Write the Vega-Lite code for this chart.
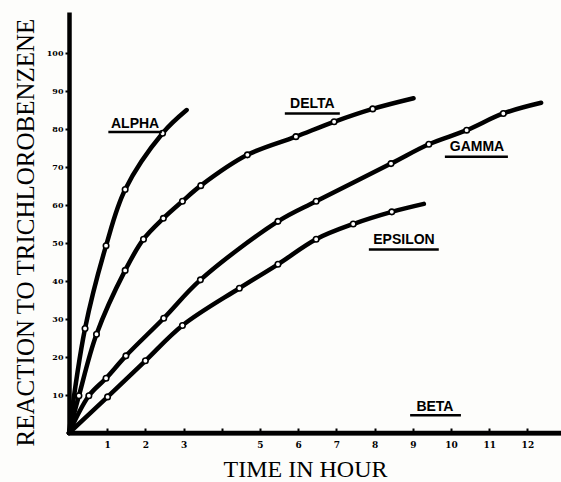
{
  "$schema": "https://vega.github.io/schema/vega-lite/v6.json",
  "width": 492,
  "height": 421,
  "autosize": {"type": "none"},
  "padding": {"left": 69, "top": 12, "right": 0, "bottom": 49},
  "background": "#fdfdfb",
  "config": {"view": {"stroke": null}},
  "datasets": {
    "curves": [
      {"series": "ALPHA", "hour": 0, "reaction": 0},
      {"series": "ALPHA", "hour": 0.42, "reaction": 27.5},
      {"series": "ALPHA", "hour": 0.97, "reaction": 49.3},
      {"series": "ALPHA", "hour": 1.47, "reaction": 64.1},
      {"series": "ALPHA", "hour": 2.45, "reaction": 78.9},
      {"series": "ALPHA", "hour": 3.08, "reaction": 85},
      {"series": "DELTA", "hour": 0, "reaction": 0},
      {"series": "DELTA", "hour": 0.26, "reaction": 9.8},
      {"series": "DELTA", "hour": 0.72, "reaction": 26},
      {"series": "DELTA", "hour": 1.47, "reaction": 42.8},
      {"series": "DELTA", "hour": 1.95, "reaction": 51},
      {"series": "DELTA", "hour": 2.47, "reaction": 56.5},
      {"series": "DELTA", "hour": 2.97, "reaction": 61},
      {"series": "DELTA", "hour": 3.45, "reaction": 65.1},
      {"series": "DELTA", "hour": 4.67, "reaction": 73.2},
      {"series": "DELTA", "hour": 5.94, "reaction": 78},
      {"series": "DELTA", "hour": 6.94, "reaction": 81.9},
      {"series": "DELTA", "hour": 7.95, "reaction": 85.3},
      {"series": "DELTA", "hour": 9.02, "reaction": 88.1},
      {"series": "GAMMA", "hour": 0, "reaction": 0},
      {"series": "GAMMA", "hour": 0.52, "reaction": 9.8},
      {"series": "GAMMA", "hour": 0.97, "reaction": 14.4},
      {"series": "GAMMA", "hour": 1.49, "reaction": 20.3},
      {"series": "GAMMA", "hour": 2.48, "reaction": 30.2},
      {"series": "GAMMA", "hour": 3.44, "reaction": 40.3},
      {"series": "GAMMA", "hour": 5.47, "reaction": 55.7},
      {"series": "GAMMA", "hour": 6.47, "reaction": 61},
      {"series": "GAMMA", "hour": 8.43, "reaction": 70.9},
      {"series": "GAMMA", "hour": 9.42, "reaction": 76},
      {"series": "GAMMA", "hour": 10.41, "reaction": 79.7},
      {"series": "GAMMA", "hour": 11.37, "reaction": 84.1},
      {"series": "GAMMA", "hour": 12.36, "reaction": 86.9},
      {"series": "EPSILON", "hour": 0, "reaction": 0},
      {"series": "EPSILON", "hour": 1.01, "reaction": 9.5},
      {"series": "EPSILON", "hour": 2.0, "reaction": 19},
      {"series": "EPSILON", "hour": 2.97, "reaction": 28.3},
      {"series": "EPSILON", "hour": 4.46, "reaction": 38.1},
      {"series": "EPSILON", "hour": 5.47, "reaction": 44.4},
      {"series": "EPSILON", "hour": 6.47, "reaction": 51},
      {"series": "EPSILON", "hour": 7.44, "reaction": 55},
      {"series": "EPSILON", "hour": 8.45, "reaction": 58.2},
      {"series": "EPSILON", "hour": 9.29, "reaction": 60.3},
      {"series": "BETA", "hour": 0, "reaction": 0},
      {"series": "BETA", "hour": 12.88, "reaction": 0}
    ],
    "points": [
      {"series": "ALPHA", "hour": 0.42, "reaction": 27.5},
      {"series": "ALPHA", "hour": 0.97, "reaction": 49.3},
      {"series": "ALPHA", "hour": 1.47, "reaction": 64.1},
      {"series": "ALPHA", "hour": 2.45, "reaction": 78.9},
      {"series": "DELTA", "hour": 0.26, "reaction": 9.8},
      {"series": "DELTA", "hour": 0.72, "reaction": 26},
      {"series": "DELTA", "hour": 1.47, "reaction": 42.8},
      {"series": "DELTA", "hour": 1.95, "reaction": 51},
      {"series": "DELTA", "hour": 2.47, "reaction": 56.5},
      {"series": "DELTA", "hour": 2.97, "reaction": 61},
      {"series": "DELTA", "hour": 3.45, "reaction": 65.1},
      {"series": "DELTA", "hour": 4.67, "reaction": 73.2},
      {"series": "DELTA", "hour": 5.94, "reaction": 78},
      {"series": "DELTA", "hour": 6.94, "reaction": 81.9},
      {"series": "DELTA", "hour": 7.95, "reaction": 85.3},
      {"series": "GAMMA", "hour": 0.52, "reaction": 9.8},
      {"series": "GAMMA", "hour": 0.97, "reaction": 14.4},
      {"series": "GAMMA", "hour": 1.49, "reaction": 20.3},
      {"series": "GAMMA", "hour": 2.48, "reaction": 30.2},
      {"series": "GAMMA", "hour": 3.44, "reaction": 40.3},
      {"series": "GAMMA", "hour": 5.47, "reaction": 55.7},
      {"series": "GAMMA", "hour": 6.47, "reaction": 61},
      {"series": "GAMMA", "hour": 8.43, "reaction": 70.9},
      {"series": "GAMMA", "hour": 9.42, "reaction": 76},
      {"series": "GAMMA", "hour": 10.41, "reaction": 79.7},
      {"series": "GAMMA", "hour": 11.37, "reaction": 84.1},
      {"series": "EPSILON", "hour": 1.01, "reaction": 9.5},
      {"series": "EPSILON", "hour": 2.0, "reaction": 19},
      {"series": "EPSILON", "hour": 2.97, "reaction": 28.3},
      {"series": "EPSILON", "hour": 4.46, "reaction": 38.1},
      {"series": "EPSILON", "hour": 5.47, "reaction": 44.4},
      {"series": "EPSILON", "hour": 6.47, "reaction": 51},
      {"series": "EPSILON", "hour": 7.44, "reaction": 55},
      {"series": "EPSILON", "hour": 8.45, "reaction": 58.2}
    ],
    "labels": [
      {"series": "ALPHA", "x": 1.73, "y": 81.4, "x1": 1.03, "x2": 2.43, "uy": 79.2},
      {"series": "DELTA", "x": 6.37, "y": 86.6, "x1": 5.65, "x2": 7.09, "uy": 84.1},
      {"series": "GAMMA", "x": 10.68, "y": 75.3, "x1": 9.84, "x2": 11.49, "uy": 72.7},
      {"series": "EPSILON", "x": 8.77, "y": 50.8, "x1": 7.85, "x2": 9.68, "uy": 48.3},
      {"series": "BETA", "x": 9.58, "y": 6.8, "x1": 8.93, "x2": 10.26, "uy": 4.7}
    ]
  },
  "encoding": {
    "x": {
      "type": "quantitative",
      "scale": {"domain": [0, 12.88], "nice": false, "zero": false},
      "axis": {
        "title": "TIME IN HOUR",
        "values": [1, 2, 3, 4, 5, 6, 7, 8, 9, 10, 11, 12],
        "labelExpr": "datum.value == 4 ? '' : datum.label",
        "grid": false,
        "domainColor": "#000",
        "domainWidth": 4,
        "tickColor": "#000",
        "tickWidth": 2,
        "tickSize": -5,
        "labelPadding": 12,
        "labelFont": "DejaVu Serif",
        "labelFontWeight": "bold",
        "labelFontSize": 9,
        "labelColor": "#000",
        "titleFont": "Liberation Serif",
        "titleFontSize": 24,
        "titleFontWeight": "normal",
        "titleColor": "#000",
        "titleX": 236,
        "titleY": 43,
        "titleBaseline": "alphabetic"
      }
    },
    "y": {
      "type": "quantitative",
      "scale": {"domain": [0, 110.8], "nice": false, "zero": false},
      "axis": {
        "title": "REACTION TO TRICHLOROBENZENE",
        "values": [10, 20, 30, 40, 50, 60, 70, 80, 90, 100],
        "grid": false,
        "domainColor": "#000",
        "domainWidth": 4.5,
        "tickColor": "#000",
        "tickWidth": 2,
        "tickSize": 4,
        "labelPadding": 2,
        "labelFont": "DejaVu Serif",
        "labelFontWeight": "bold",
        "labelFontSize": 8,
        "labelColor": "#000",
        "titleFont": "Liberation Serif",
        "titleFontSize": 25,
        "titleFontWeight": "normal",
        "titleColor": "#000",
        "titleAngle": -90,
        "titleX": -36,
        "titleY": 220,
        "titleAlign": "center",
        "titleBaseline": "alphabetic"
      }
    }
  },
  "layer": [
    {
      "data": {"name": "curves"},
      "mark": {"type": "line", "interpolate": "catmull-rom", "color": "#000", "strokeWidth": 4.5, "strokeCap": "round"},
      "encoding": {
        "x": {"field": "hour"},
        "y": {"field": "reaction"},
        "detail": {"field": "series"},
        "order": {"field": "hour"}
      }
    },
    {
      "data": {"name": "points"},
      "mark": {"type": "point", "shape": "circle", "filled": true, "fill": "#fff", "stroke": "#000", "strokeWidth": 1.6, "size": 30, "opacity": 1},
      "encoding": {
        "x": {"field": "hour"},
        "y": {"field": "reaction"}
      }
    },
    {
      "data": {"name": "labels"},
      "mark": {"type": "rule", "color": "#000", "strokeWidth": 2.5},
      "encoding": {
        "x": {"field": "x1"},
        "x2": {"field": "x2"},
        "y": {"field": "uy"}
      }
    },
    {
      "data": {"name": "labels"},
      "mark": {"type": "text", "font": "Liberation Sans", "fontSize": 14, "fontWeight": "bold", "color": "#000", "align": "center", "baseline": "middle"},
      "encoding": {
        "x": {"field": "x"},
        "y": {"field": "y"},
        "text": {"field": "series"}
      }
    }
  ]
}
